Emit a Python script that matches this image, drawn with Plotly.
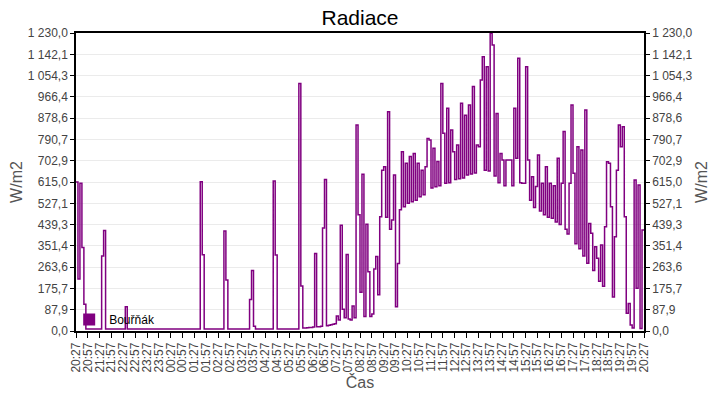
import plotly.graph_objects as go
import pandas as pd

# radiation samples every 5 minutes, from 20:27 to 20:27 next day (one row = 30 min)
RADIACE = [
    615, 215, 610, 345, 110, 8,      # 20:27
    8, 8, 8, 8, 8, 8,                # 20:57
    8, 310, 415, 8, 8, 8,            # 21:27
    8, 8, 8, 8, 8, 8,                # 21:57
    8, 100, 8, 8, 8, 8,              # 22:27
    8, 8, 8, 8, 8, 8,                # 22:57
    8, 8, 8, 8, 8, 8,                # 23:27
    8, 8, 8, 8, 8, 8,                # 23:57
    8, 8, 8, 8, 8, 8,                # 00:27
    8, 8, 8, 8, 8, 8,                # 00:57
    8, 8, 8, 616, 315, 8,            # 01:27
    8, 8, 8, 8, 8, 8,                # 01:57
    8, 8, 8, 413, 210, 8,            # 02:27
    8, 8, 8, 8, 8, 8,                # 02:57
    8, 8, 8, 8, 130, 250,            # 03:27
    20, 8, 8, 8, 8, 8,               # 03:57
    8, 8, 8, 8, 619, 314,            # 04:27
    8, 8, 8, 8, 8, 8,                # 04:57
    8, 8, 8, 8, 8, 1022,             # 05:27
    186, 12, 12, 13, 14, 14,         # 05:57
    16, 320, 18, 18, 20, 425,        # 06:27
    625, 22, 24, 26, 28, 30,         # 06:57
    62, 45, 437, 90, 55, 316,        # 07:27
    50, 45, 103, 55, 850, 480,       # 07:57
    160, 647, 60, 441, 245, 60,      # 08:27
    70, 256, 307, 150, 472, 664,     # 08:57
    678, 470, 905, 420, 458, 644,    # 09:27
    100, 279, 500, 740, 513, 692,    # 09:57
    527, 720, 533, 733, 540, 692,    # 10:27
    554, 664, 562, 678, 795, 788,    # 10:57
    590, 754, 595, 700, 600, 1022,   # 11:27
    816, 610, 919, 612, 830, 740,    # 11:57
    625, 768, 628, 940, 632, 891,    # 12:27
    644, 933, 648, 1009, 652, 768,   # 12:57
    761, 1036, 1132, 664, 1091, 660, # 13:27
    1229, 1180, 640, 898, 612, 733,  # 13:57
    706, 600, 706, 706, 706, 600,    # 14:27
    919, 713, 1126, 612, 610, 610,   # 14:57
    1091, 706, 540, 637, 510, 596,   # 15:27
    726, 495, 610, 480, 678, 470,    # 15:57
    610, 465, 600, 450, 713, 440,    # 16:27
    610, 823, 420, 400, 610, 933,    # 16:57
    651, 360, 761, 340, 747, 310,    # 17:27
    912, 280, 444, 403, 250, 348,    # 17:57
    300, 205, 355, 185, 430, 699,    # 18:27
    692, 513, 140, 389, 664, 850,    # 18:57
    761, 843, 472, 73, 114, 25,      # 19:27
    12, 623, 176, 603, 10, 417,      # 19:57
    417,                             # 20:27
]

TICK_LABELS = [
    '20:27', '20:57', '21:27', '21:57', '22:27', '22:57', '23:27', '23:57',
    '00:27', '00:57', '01:27', '01:57', '02:27', '02:57', '03:27', '03:57',
    '04:27', '04:57', '05:27', '05:57', '06:27', '06:57', '07:27', '07:57',
    '08:27', '08:57', '09:27', '09:57', '10:27', '10:57', '11:27', '11:57',
    '12:27', '12:57', '13:27', '13:57', '14:27', '14:57', '15:27', '15:57',
    '16:27', '16:57', '17:27', '17:57', '18:27', '18:57', '19:27', '19:57',
    '20:27',
]

Y_TICKS = [0.0, 87.9, 175.7, 263.6, 351.4, 439.3, 527.1, 615.0,
           702.9, 790.7, 878.6, 966.4, 1054.3, 1142.1, 1230.0]

SERIES_NAME = 'Bouřňák'
COLOR = '#800080'
FONT = 'Liberation Sans, Arial, sans-serif'

times = pd.date_range('2024-06-01 20:27', periods=len(RADIACE), freq='5min')
tick_times = pd.date_range('2024-06-01 20:27', periods=len(TICK_LABELS), freq='30min')
y_text = [f'{v:,.1f}'.replace(',', ' ').replace('.', ',') for v in Y_TICKS]

fig = go.Figure()
fig.add_trace(go.Scatter(
    x=times, y=RADIACE, mode='lines', line=dict(color=COLOR, width=1.5, shape='hv'),
    showlegend=False
))
# legend entry with a square swatch, also keeps the right axis alive
fig.add_trace(go.Scatter(
    x=[None], y=[None], yaxis='y2', mode='markers', name=SERIES_NAME,
    marker=dict(symbol='square', size=12, color=COLOR)
))

axis_common = dict(
    range=[0, 1230], tickvals=Y_TICKS, ticktext=y_text,
    showline=True, linecolor='black', linewidth=1.5,
    ticks='outside', ticklen=4, tickcolor='black',
    tickfont=dict(size=12, color='#444', family=FONT),
    title=dict(text='W/m2', font=dict(size=16, color='#555', family=FONT), standoff=4),
    zeroline=False, automargin=False,
)

# the page adds an 8px body margin, so the figure is a bit smaller than the window
fig.update_layout(
    width=704, height=384,
    margin=dict(l=68, r=68, t=25, b=61),
    paper_bgcolor='white', plot_bgcolor='white',
    title=dict(text='Radiace', x=0.5, xanchor='center', y=0.993, yanchor='top',
               pad=dict(t=0, b=0), font=dict(size=21, color='black', family=FONT)),
    xaxis=dict(
        range=[times[0], times[-1]], tickvals=tick_times, ticktext=TICK_LABELS,
        tickangle=-90, showgrid=False, showline=True, mirror=True, automargin=False,
        linecolor='black', linewidth=1.5, ticks='outside', ticklen=5, tickcolor='black',
        tickfont=dict(size=12, color='#444', family=FONT),
        title=dict(text='Čas', font=dict(size=16, color='#555', family=FONT), standoff=2),
    ),
    yaxis=dict(showgrid=True, gridcolor='#ebebeb', gridwidth=1, **axis_common),
    yaxis2=dict(overlaying='y', side='right', showgrid=False, **axis_common),
    legend=dict(x=-0.012, y=-0.01, xanchor='left', yanchor='bottom',
                bgcolor='rgba(0,0,0,0)', font=dict(size=12, color='black', family=FONT)),
)

fig.write_html('out.html')
